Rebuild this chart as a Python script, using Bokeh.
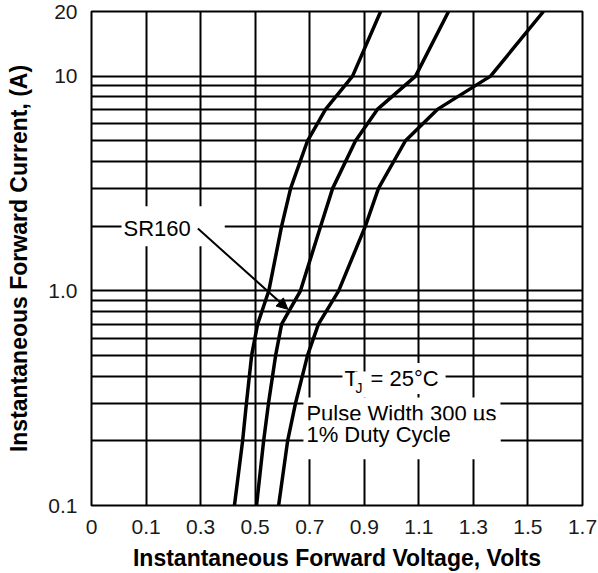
from bokeh.plotting import figure
from bokeh.models import FixedTicker, Label, Arrow, NormalHead, Range1d
from bokeh.embed import file_html
from bokeh.resources import INLINE

# ---- axis data ----
X_TICKS = [-0.1, 0.1, 0.3, 0.5, 0.7, 0.9, 1.1, 1.3, 1.5, 1.7]
X_TICK_LABELS = ["0", "0.1", "0.3", "0.5", "0.7", "0.9", "1.1", "1.3", "1.5", "1.7"]
Y_TICKS = [0.1, 1.0, 10.0, 20.0]
Y_TICK_LABELS = ["0.1", "1.0", "10", "20"]
Y_MINOR = [0.2, 0.3, 0.4, 0.5, 0.6, 0.7, 0.8, 0.9, 2, 3, 4, 5, 6, 7, 8, 9]

# ---- curve data (forward current A vs forward voltage V) ----
amps = [0.1, 0.2, 0.3, 0.5, 0.7, 1.0, 2, 3, 5, 7, 10, 20]
left_v = [0.424, 0.454, 0.468, 0.487, 0.509, 0.550, 0.597, 0.630, 0.692, 0.758, 0.857, 0.960]
mid_v = [0.505, 0.531, 0.549, 0.575, 0.597, 0.666, 0.740, 0.784, 0.868, 0.948, 1.088, 1.209]
right_v = [0.586, 0.619, 0.648, 0.692, 0.732, 0.806, 0.904, 0.952, 1.051, 1.168, 1.363, 1.557]

FONT = "Liberation Sans"

p = figure(width=598, height=573, output_backend="svg", toolbar_location=None,
           y_axis_type="log",
           x_range=Range1d(X_TICKS[0], X_TICKS[-1]),
           y_range=Range1d(Y_TICKS[0], Y_TICKS[-1]),
           min_border_left=91, min_border_right=16, min_border_top=11, min_border_bottom=68)
p.background_fill_color = "white"
p.border_fill_color = "white"
p.outline_line_color = "black"
p.outline_line_width = 2

p.xaxis.ticker = FixedTicker(ticks=X_TICKS)
p.xaxis.major_label_overrides = {t: l for t, l in zip(X_TICKS, X_TICK_LABELS)}
p.yaxis.ticker = FixedTicker(ticks=Y_TICKS, minor_ticks=Y_MINOR)
p.yaxis.major_label_overrides = {t: l for t, l in zip(Y_TICKS, Y_TICK_LABELS)}

for ax in (p.xaxis, p.yaxis):
    ax.axis_line_color = None
    ax.major_tick_line_color = None
    ax.minor_tick_line_color = None
    ax.major_label_text_font = FONT
    ax.major_label_text_font_size = "21px"
    ax.major_label_text_color = "#1a1a1a"
    ax.axis_label_text_font = FONT
    ax.axis_label_text_font_size = "23px"
    ax.axis_label_text_font_style = "bold"
    ax.axis_label_text_color = "black"

p.xaxis.axis_label = "Instantaneous Forward Voltage, Volts"
p.yaxis.axis_label = "Instantaneous Forward Current, (A)"
p.xaxis.major_label_standoff = 8
p.xaxis.axis_label_standoff = 8
p.yaxis.major_label_standoff = 8
p.yaxis.axis_label_standoff = 13

p.xgrid.ticker = FixedTicker(ticks=X_TICKS)
p.xgrid.grid_line_color = "black"
p.xgrid.grid_line_width = 2
p.ygrid.grid_line_color = "black"
p.ygrid.grid_line_width = 2
p.ygrid.minor_grid_line_color = "black"
p.ygrid.minor_grid_line_width = 2

for v in (left_v, mid_v, right_v):
    p.line(v, amps, line_color="black", line_width=3.5, line_join="round")

def lab(x, y, text, size="22px", **kw):
    l = Label(x=x, y=y, text=text, text_font=FONT, text_font_size=size,
              text_color="black", text_baseline="middle", text_align="left", **kw)
    p.add_layout(l)
    return l

# SR160 callout
lab(0.01, 2.0, "SR160", background_fill_color="white",
    padding=dict(left=2, right=34, top=10, bottom=5))
p.add_layout(Arrow(x_start=0.29, y_start=1.95, x_end=0.62, y_end=0.82,
                   line_color="black", line_width=2,
                   end=NormalHead(size=11, fill_color="black", line_color="black")))

# conditions box
lab(0.677, 0.27, "Pulse Width 300 \u00b5s", background_fill_color="white",
    padding=dict(left=3, right=4, top=4, bottom=2))
lab(0.677, 0.2, "1% Duty Cycle", y_offset=1, background_fill_color="white",
    padding=dict(left=3, right=50, top=2, bottom=12))
lab(0.82, 0.39, "T", background_fill_color="white",
    padding=dict(left=2, right=2, top=3, bottom=3))
lab(0.82, 0.39, "J", size="14px", x_offset=12, y_offset=-6, background_fill_color="white",
    padding=dict(left=1, right=9, top=8, bottom=2))
lab(0.82, 0.39, "= 25\u00b0C", x_offset=26, background_fill_color="white",
    padding=dict(left=2, right=7, top=3, bottom=3))

open("out.html", "w").write(file_html(p, INLINE))
